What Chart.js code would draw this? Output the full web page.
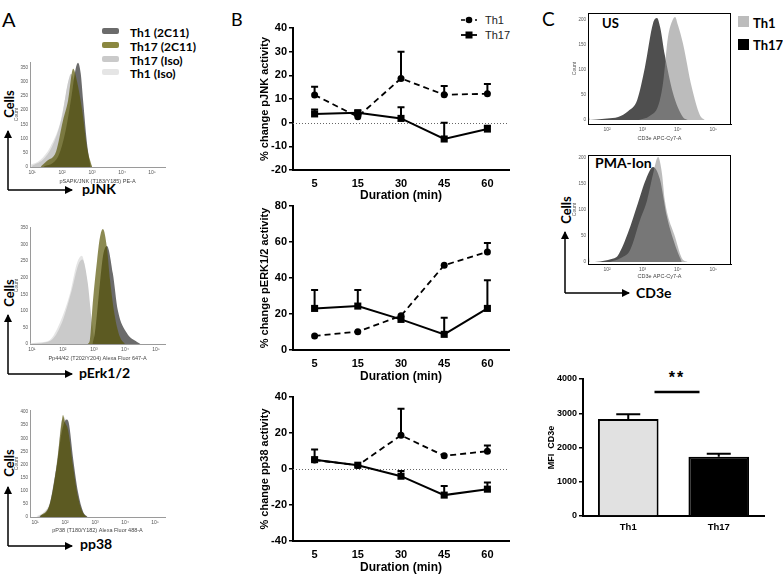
<!DOCTYPE html>
<html>
<head>
<meta charset="utf-8">
<script src="https://cdn.jsdelivr.net/npm/chart.js@4.4.0/dist/chart.umd.min.js"></script>
<style>
body { margin: 0; background: #fff; }
#fig { position: relative; width: 783px; height: 575px; overflow: hidden; background: #fff; font-family: Lato, 'Liberation Sans', sans-serif; color: #000; }
#fig canvas { position: absolute; }
.t { position: absolute; white-space: nowrap; line-height: 1; }
.vc { transform: translateY(-50%); }
.rot { transform: translate(-50%, -50%) rotate(-90deg); }
.b { font-weight: bold; }
.sw { position: absolute; }
</style>
</head>
<body>
<div id="fig">
  <svg width="783" height="575" style="position:absolute;left:0;top:0">
    <defs>
      <marker id="ah" markerWidth="8" markerHeight="8" refX="7" refY="4" orient="auto" markerUnits="userSpaceOnUse">
        <path d="M0,0 L8,4 L0,8 z" fill="#000"/>
      </marker>
    </defs>
    <g stroke="#000" stroke-width="1.5" fill="none">
      <line x1="8" y1="190" x2="8" y2="131" marker-end="url(#ah)"/>
      <line x1="8" y1="190" x2="72" y2="190" marker-end="url(#ah)"/>
      <line x1="8" y1="374" x2="8" y2="315" marker-end="url(#ah)"/>
      <line x1="8" y1="374" x2="72" y2="374" marker-end="url(#ah)"/>
      <line x1="8" y1="546" x2="8" y2="487" marker-end="url(#ah)"/>
      <line x1="8" y1="546" x2="72" y2="546" marker-end="url(#ah)"/>
      <line x1="565" y1="293" x2="565" y2="232" marker-end="url(#ah)"/>
      <line x1="565" y1="293" x2="629" y2="293" marker-end="url(#ah)"/>
    </g>
    <!-- panel B legend -->
    <g stroke="#000">
      <line x1="461" y1="20" x2="477" y2="20" stroke-width="1.6" stroke-dasharray="4,3"/>
      <line x1="461" y1="35" x2="477" y2="35" stroke-width="1.8"/>
    </g>
    <circle cx="469" cy="20" r="3.3" fill="#000"/>
    <rect x="465.5" y="31.5" width="7" height="7" fill="#000"/>
  </svg>

  <!-- panel letters -->
  <div class="t" style="left:2px;top:9px;font-size:20px">A</div>
  <div class="t" style="left:231px;top:10px;font-size:18px">B</div>
  <div class="t" style="left:542px;top:9px;font-size:19px">C</div>

  <!-- panel A legend -->
  <div class="sw" style="left:102px;top:28px;width:17px;height:6px;border-radius:2px;background:#6b6b6b"></div>
  <div class="sw" style="left:102px;top:42px;width:17px;height:6px;border-radius:2px;background:#8a873f"></div>
  <div class="sw" style="left:102px;top:56px;width:17px;height:6px;border-radius:2px;background:#cacaca"></div>
  <div class="sw" style="left:102px;top:69px;width:17px;height:6px;border-radius:2px;background:#e5e5e5"></div>
  <div class="t vc b" style="left:130px;top:33px;font-size:12px">Th1 (2C11)</div>
  <div class="t vc b" style="left:130px;top:47px;font-size:12px">Th17 (2C11)</div>
  <div class="t vc b" style="left:130px;top:61px;font-size:12px">Th17 (Iso)</div>
  <div class="t vc b" style="left:130px;top:74px;font-size:12px">Th1 (Iso)</div>

  <!-- panel A axis names -->
  <div class="t rot b" style="left:9px;top:104px;font-size:13px">Cells</div>
  <div class="t rot b" style="left:9px;top:293px;font-size:13px">Cells</div>
  <div class="t rot b" style="left:9px;top:463px;font-size:13px">Cells</div>
  <div class="t vc b" style="left:82px;top:189px;font-size:14px">pJNK</div>
  <div class="t vc b" style="left:79px;top:373px;font-size:14px">pErk1/2</div>
  <div class="t vc b" style="left:80px;top:544px;font-size:14px">pp38</div>

  <!-- panel B legend text -->
  <div class="t vc" style="left:485px;top:20px;font-size:11px;font-family:'Liberation Sans';color:#222">Th1</div>
  <div class="t vc" style="left:485px;top:35px;font-size:11px;font-family:'Liberation Sans';color:#222">Th17</div>

  <!-- panel C labels -->
  <div class="sw" style="left:738px;top:16px;width:11px;height:11px;background:#bcbcbc"></div>
  <div class="sw" style="left:738px;top:39px;width:11px;height:11px;background:#000"></div>
  <div class="t vc b" style="left:753px;top:23px;font-size:13px">Th1</div>
  <div class="t vc b" style="left:753px;top:45px;font-size:13px">Th17</div>
  <div class="t vc b" style="left:602px;top:23px;font-size:13px">US</div>
  <div class="t vc b" style="left:595px;top:163px;font-size:14px">PMA-Ion</div>
  <div class="t rot b" style="left:566px;top:210px;font-size:13px">Cells</div>
  <div class="t vc b" style="left:636px;top:293px;font-size:14px">CD3e</div>
  <div class="t b" style="left:677px;top:378px;font-size:16px;font-family:'Liberation Sans';transform:translate(-50%,-50%);letter-spacing:2px">**</div>
</div>

<script>
// ---------- panel B: % change in activity over time ----------
const durations = ['5', '15', '30', '45', '60'];

const jnkTh1 = [11.7, 2.5, 18.7, 11.8, 12.2];
const jnkTh1Err = [3.5, 0.5, 11.3, 3.7, 4.1];
const jnkTh17 = [3.7, 4.2, 1.8, -6.9, -2.7];
const jnkTh17Err = [1.9, 0.8, 4.7, 6.9, 1.4];

const erkTh1 = [7.8, 10.2, 19.0, 47.1, 54.5];
const erkTh1Err = [0, 0, 0, 0, 5.0];
const erkTh17 = [23.1, 24.4, 17.0, 8.7, 23.1];
const erkTh17Err = [10.2, 8.9, 0, 9.2, 15.7];

const p38Th1 = [5.0, 2.0, 18.7, 7.3, 9.9];
const p38Th1Err = [0, 0, 14.8, 0, 3.1];
const p38Th17 = [5.2, 2.1, -4.0, -14.5, -11.2];
const p38Th17Err = [5.7, 0, 2.9, 5.1, 3.7];

// ---------- panel C: CD3e MFI ----------
const mfiGroups = ['Th1', 'Th17'];
const mfiCd3e = [2830, 1730];
const mfiCd3eErr = [140, 90];
const sigLevel = 3620;

// ---------- histograms: [log10 decade, count] ----------
const decadeLabels = ['10¹', '10²', '10³', '10⁴', '10⁵'];

const jnkTh1Iso = [[0.95,8],[1.27,25],[1.6,70],[1.93,154],[2.1,240],[2.25,311],[2.45,230],[2.7,119],[2.85,40],[2.95,0]];
const jnkTh17Iso = [[1.0,4],[1.4,30],[1.7,80],[2.0,180],[2.18,290],[2.3,329],[2.5,250],[2.75,100],[2.9,25],[3.0,0]];
const jnkTh1Hist = [[1.4,3],[1.7,15],[1.9,45],[2.1,120],[2.3,240],[2.45,345],[2.53,367],[2.62,330],[2.7,234],[2.83,84],[2.95,0]];
const jnkTh17Hist = [[1.3,3],[1.5,22],[1.8,55],[2.03,164],[2.2,234],[2.37,346],[2.5,300],[2.67,199],[2.83,70],[3.0,0]];

const erkTh1Iso = [[0.95,2],[1.3,5],[1.58,12],[1.9,63],[2.23,153],[2.45,243],[2.61,266],[2.77,192],[2.87,93],[2.97,21],[3.1,0]];
const erkTh17Iso = [[1.0,1],[1.6,10],[1.95,60],[2.28,160],[2.5,240],[2.63,255],[2.8,185],[2.92,80],[3.02,15],[3.15,0]];
const erkTh1Hist = [[2.95,0],[3.03,33],[3.19,180],[3.3,270],[3.42,296],[3.61,213],[3.77,102],[4.06,33],[4.39,6],[4.5,0]];
const erkTh17Hist = [[2.8,0],[2.87,12],[2.97,132],[3.1,251],[3.19,320],[3.29,347],[3.42,290],[3.52,192],[3.68,81],[3.84,21],[4.0,0]];

const p38Th1Iso = [[1.05,3],[1.3,20],[1.5,60],[1.73,215],[1.9,365],[1.98,380],[2.1,320],[2.27,180],[2.43,70],[2.6,12],[2.73,0]];
const p38Th17Iso = [[1.1,2],[1.35,22],[1.55,70],[1.75,230],[1.9,370],[2.0,372],[2.12,315],[2.3,170],[2.45,65],[2.6,12],[2.75,0]];
const p38Th1Hist = [[1.15,2],[1.45,35],[1.7,180],[1.9,330],[2.05,372],[2.12,360],[2.27,220],[2.43,95],[2.6,20],[2.75,0]];
const p38Th17Hist = [[1.17,2],[1.5,53],[1.73,206],[1.88,358],[1.93,389],[2.0,360],[2.1,331],[2.27,190],[2.43,76],[2.6,15],[2.73,0]];

const usTh17 = [[1.45,0],[1.47,22],[1.5,0],[1.7,1],[2.0,3],[2.31,6],[2.6,18],[2.85,40],[3.07,106],[3.3,194],[3.41,204],[3.5,185],[3.63,130],[3.86,54],[4.14,6],[4.28,0]];
const usTh1 = [[2.9,0],[3.2,8],[3.45,30],[3.58,74],[3.72,166],[3.85,200],[3.92,206],[4.0,190],[4.14,154],[4.39,66],[4.62,10],[4.76,0]];
const pmaTh17 = [[1.45,0],[1.47,36],[1.5,0],[1.8,1],[2.1,5],[2.31,13],[2.59,56],[2.87,113],[3.1,160],[3.3,183],[3.49,160],[3.69,87],[3.97,23],[4.11,0]];
const pmaTh1 = [[2.08,0],[2.4,8],[2.65,23],[2.93,81],[3.13,119],[3.3,170],[3.44,202],[3.55,170],[3.63,119],[3.92,48],[4.14,4],[4.28,0]];

const fig = document.getElementById('fig');
Chart.defaults.font.family = "'Liberation Sans', Arial, sans-serif";
Chart.defaults.color = '#000';

// canvas sized so that the plot area lands on [L, T, R, B]
function mount(area, yw, xh, padTop, padRight) {
  const [L, T, R, B] = area;
  const cv = document.createElement('canvas');
  const w = R - L + yw + padRight, h = B - T + padTop + xh;
  cv.width = w; cv.height = h;
  cv.style.left = (L - yw) + 'px';
  cv.style.top = (T - padTop) + 'px';
  cv.style.width = w + 'px';
  cv.style.height = h + 'px';
  fig.appendChild(cv);
  return cv;
}

// one-sided (upper) error bars
const errorBars = {
  id: 'errorBars',
  afterDatasetsDraw(chart) {
    const { ctx } = chart;
    const y = chart.scales.y;
    chart.data.datasets.forEach((ds, i) => {
      if (!ds.errUp) return;
      const cap = ds.capHalf || 3.5;
      chart.getDatasetMeta(i).data.forEach((pt, j) => {
        const e = ds.errUp[j];
        if (!e) return;
        const top = y.getPixelForValue(ds.data[j] + e);
        ctx.save();
        ctx.strokeStyle = '#000';
        ctx.lineWidth = 2;
        ctx.beginPath();
        ctx.moveTo(pt.x, pt.y);
        ctx.lineTo(pt.x, top);
        ctx.moveTo(pt.x - cap, top);
        ctx.lineTo(pt.x + cap, top);
        ctx.stroke();
        ctx.restore();
      });
    });
  }
};

const zeroLine = {
  id: 'zeroLine',
  beforeDatasetsDraw(chart) {
    const y = chart.scales.y;
    if (!(y.min < 0 && y.max > 0)) return;
    const { ctx, chartArea } = chart;
    const py = Math.round(y.getPixelForValue(0)) + 0.5;
    ctx.save();
    ctx.strokeStyle = '#666';
    ctx.lineWidth = 1;
    ctx.setLineDash([1, 2]);
    ctx.beginPath();
    ctx.moveTo(chartArea.left, py);
    ctx.lineTo(chartArea.right, py);
    ctx.stroke();
    ctx.restore();
  }
};

const boxFrame = {
  id: 'boxFrame',
  afterDraw(chart) {
    const { ctx, chartArea: a } = chart;
    ctx.save();
    ctx.strokeStyle = '#000';
    ctx.lineWidth = 1;
    ctx.strokeRect(a.left + 0.5, a.top + 0.5, a.right - a.left - 1, a.bottom - a.top);
    ctx.restore();
  }
};

const sigBar = {
  id: 'sigBar',
  afterDraw(chart) {
    const { ctx } = chart;
    const x = chart.scales.x, y = chart.scales.y;
    const mid = (x.getPixelForValue(0) + x.getPixelForValue(1)) / 2;
    const py = y.getPixelForValue(sigLevel);
    ctx.save();
    ctx.strokeStyle = '#000';
    ctx.lineWidth = 2.5;
    ctx.beginPath();
    ctx.moveTo(mid - 19, py);
    ctx.lineTo(mid + 26, py);
    ctx.stroke();
    ctx.restore();
  }
};

const boldFont = size => ({ family: "'Liberation Sans', Arial, sans-serif", weight: 'bold', size });

function timeCourse(area, xh, yMin, yMax, step, title, th1, th1Err, th17, th17Err) {
  const cv = mount(area, 39, xh, 14, 8);
  return new Chart(cv, {
    type: 'line',
    data: {
      labels: durations,
      datasets: [
        { label: 'Th1', data: th1, errUp: th1Err, borderColor: '#000', borderWidth: 1.8, borderDash: [6, 4],
          pointStyle: 'circle', pointRadius: 3.5, pointBackgroundColor: '#000', pointBorderWidth: 0, tension: 0 },
        { label: 'Th17', data: th17, errUp: th17Err, borderColor: '#000', borderWidth: 2,
          pointStyle: 'rect', pointRadius: 5, pointBackgroundColor: '#000', pointBorderWidth: 0, tension: 0 }
      ]
    },
    options: {
      responsive: false, animation: false, devicePixelRatio: 1,
      layout: { padding: { top: 14, right: 8, left: 0, bottom: 0 } },
      plugins: { legend: { display: false }, tooltip: { enabled: false } },
      scales: {
        x: {
          offset: true,
          grid: { display: false, drawTicks: false },
          border: { color: '#000', width: 2 },
          ticks: { color: '#000', font: boldFont(11), padding: 7 },
          title: { display: true, text: 'Duration (min)', color: '#000', font: boldFont(12), padding: { top: 2, bottom: 0 } },
          afterFit: s => { s.height = xh; }
        },
        y: {
          min: yMin, max: yMax,
          ticks: { stepSize: step, color: '#000', font: boldFont(11), padding: 2 },
          grid: { display: true, drawOnChartArea: false, drawTicks: true, tickLength: 4, color: '#000', lineWidth: 1.5 },
          border: { color: '#000', width: 2 },
          title: { display: true, text: title, color: '#000', font: boldFont(11), padding: { top: 4, bottom: 0 } },
          afterFit: s => { s.width = 39; }
        }
      }
    },
    plugins: [zeroLine, errorBars]
  });
}

function histogram(area, yw, xh, xMin, xMax, yMin, yMax, yTicks, xTitle, curves, framed) {
  const cv = mount(area, yw, xh, 6, 6);
  const axisColor = framed ? '#000' : '#9a9a9a';
  return new Chart(cv, {
    type: 'line',
    data: {
      datasets: curves.map((c, i) => ({
        data: c.pts.map(([x, y]) => ({ x, y })),
        fill: 'origin',
        backgroundColor: c.color,
        borderWidth: 0,
        pointRadius: 0,
        cubicInterpolationMode: 'monotone',
        order: i
      }))
    },
    options: {
      responsive: false, animation: false, devicePixelRatio: 1,
      layout: { padding: { top: 6, right: 6, left: 0, bottom: 0 } },
      plugins: { legend: { display: false }, tooltip: { enabled: false } },
      scales: {
        x: {
          type: 'linear', min: xMin, max: xMax,
          grid: { display: false, drawTicks: false },
          border: { color: axisColor, width: 1 },
          ticks: { color: '#555', font: { size: 5 }, padding: 3, autoSkip: false, callback: v => decadeLabels[Math.round(v) - 1] },
          afterBuildTicks: s => { s.ticks = [1, 2, 3, 4, 5].filter(v => v >= xMin && v <= xMax).map(v => ({ value: v })); },
          title: { display: true, text: xTitle, color: '#444', font: { size: 5.5 }, padding: { top: 0, bottom: 0 } },
          afterFit: s => { s.height = xh; }
        },
        y: {
          min: yMin, max: yMax,
          grid: { display: false, drawTicks: false },
          border: { color: axisColor, width: 1 },
          ticks: { color: '#555', font: { size: 4.5 }, padding: 2, autoSkip: false },
          afterBuildTicks: s => { s.ticks = yTicks.map(v => ({ value: v })); },
          title: { display: true, text: 'Count', color: '#555', font: { size: 5 }, padding: { top: 4, bottom: 0 } },
          afterFit: s => { s.width = yw; }
        }
      }
    },
    plugins: framed ? [boxFrame] : []
  });
}

// colours for panel A
const cTh1 = '#6b6b6b', cTh17 = 'rgba(86,83,0,0.68)', cTh17Iso = '#cacaca', cTh1Iso = '#e5e5e5';
const countTicksA = [0, 50, 100, 150, 200, 250, 300, 350];

histogram([30, 62, 165, 167], 20, 18, 0.93, 5.43, 0, 370, countTicksA, 'pSAPK/JNK (T183/Y185) PE-A', [
  { pts: jnkTh17Hist, color: cTh17 }, { pts: jnkTh1Hist, color: cTh1 },
  { pts: jnkTh17Iso, color: cTh17Iso }, { pts: jnkTh1Iso, color: cTh1Iso }
], false);

histogram([30, 227, 165, 344], 20, 18, 0.94, 5.29, 0, 353, countTicksA, 'Pp44/42 (T202/Y204) Alexa Fluor 647-A', [
  { pts: erkTh17Hist, color: cTh17 }, { pts: erkTh1Hist, color: cTh1 },
  { pts: erkTh17Iso, color: cTh17Iso }, { pts: erkTh1Iso, color: cTh1Iso }
], false);

histogram([30, 410, 165, 517], 20, 17, 0.83, 5.33, 0, 408, countTicksA.concat([400]), 'pP38 (T180/Y182) Alexa Fluor 488-A', [
  { pts: p38Th17Hist, color: cTh17 }, { pts: p38Th1Hist, color: cTh1 },
  { pts: p38Th17Iso, color: cTh17Iso }, { pts: p38Th1Iso, color: cTh1Iso }
], false);

// panel C histograms: Th1 translucent over Th17
const countTicksC = [0, 50, 100, 150, 200];
histogram([588, 13, 731, 124], 20, 18, 1.46, 5.5, -8, 214, countTicksC, 'CD3e APC-Cy7-A', [
  { pts: usTh1, color: 'rgba(145,145,145,0.61)' }, { pts: usTh17, color: '#4f4f4f' }
], true);
histogram([588, 155, 731, 264], 20, 16, 1.46, 5.5, -4, 206, countTicksC, 'CD3e APC-Cy7-A', [
  { pts: pmaTh1, color: 'rgba(145,145,145,0.61)' }, { pts: pmaTh17, color: '#4f4f4f' }
], true);

// panel B
timeCourse([293, 28, 509, 170], 33, -20, 40, 10, '% change pJNK activity', jnkTh1, jnkTh1Err, jnkTh17, jnkTh17Err);
timeCourse([293, 206, 509, 350], 34, 0, 80, 20, '% change pERK1/2 activity', erkTh1, erkTh1Err, erkTh17, erkTh17Err);
timeCourse([293, 397, 509, 541], 34, -40, 40, 20, '% change pp38 activity', p38Th1, p38Th1Err, p38Th17, p38Th17Err);

// panel C bar chart
const barCv = mount([583, 379, 764, 516], 38, 24, 20, 12);
new Chart(barCv, {
  type: 'bar',
  data: {
    labels: mfiGroups,
    datasets: [{
      data: mfiCd3e, errUp: mfiCd3eErr, capHalf: 12,
      backgroundColor: ['#e1e1e1', '#000'], borderColor: '#000', borderWidth: 2,
      barPercentage: 0.67, categoryPercentage: 1
    }]
  },
  options: {
    responsive: false, animation: false, devicePixelRatio: 1,
    layout: { padding: { top: 20, right: 12, left: 0, bottom: 0 } },
    plugins: { legend: { display: false }, tooltip: { enabled: false } },
    scales: {
      x: {
        grid: { display: false, drawTicks: false },
        border: { color: '#000', width: 2 },
        ticks: { color: '#000', font: boldFont(9.5), padding: 6 },
        afterFit: s => { s.height = 24; }
      },
      y: {
        min: 0, max: 4000,
        ticks: { stepSize: 1000, color: '#000', font: boldFont(9), padding: 2, callback: v => String(v) },
        grid: { display: true, drawOnChartArea: false, drawTicks: true, tickLength: 4, color: '#000', lineWidth: 1.5 },
        border: { color: '#000', width: 2 },
        title: { display: true, text: 'MFI  CD3e', color: '#000', font: boldFont(9), padding: { top: 1, bottom: 0 } },
        afterFit: s => { s.width = 38; }
      }
    }
  },
  plugins: [errorBars, sigBar]
});
</script>
</body>
</html>
